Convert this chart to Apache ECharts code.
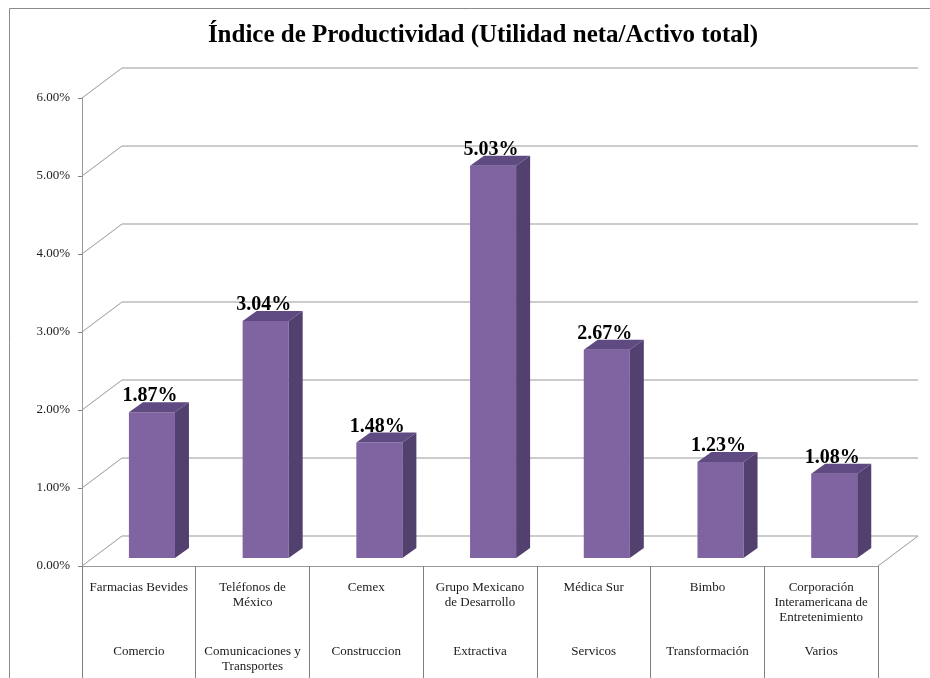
<!DOCTYPE html>
<html>
<head>
<meta charset="utf-8">
<script src="https://cdn.jsdelivr.net/npm/echarts@6/dist/echarts.min.js"></script>
<style>
html,body{margin:0;padding:0;background:#fff;}
#chart{width:930px;height:678px;}
</style>
</head>
<body>
<div id="chart"></div>
<script>
// ---- Data ----
const companies = ['Farmacias Bevides', 'Teléfonos de\nMéxico', 'Cemex', 'Grupo Mexicano\nde Desarrollo', 'Médica Sur', 'Bimbo', 'Corporación\nInteramericana de\nEntretenimiento'];
const sectors = ['Comercio', 'Comunicaciones y\nTransportes', 'Construccion', 'Extractiva', 'Servicos', 'Transformación', 'Varios'];
const productividad = [1.87, 3.04, 1.48, 5.03, 2.67, 1.23, 1.08]; // percent
const yTicks = [0, 1, 2, 3, 4, 5, 6];

const FONT = 'Liberation Serif';
const DEPTH_X = 40, DEPTH_Y = -30;
const GRID_COLOR = '#999999';

const chart = echarts.init(document.getElementById('chart'));

function wallItem(params, api) {
  const cs = params.coordSys;
  const v = api.value(0);
  const y = api.coord([0, v])[1];
  const x = cs.x, w = cs.width;
  const children = [{
    type: 'polyline',
    shape: { points: [[x, y], [x + DEPTH_X, y + DEPTH_Y], [x + w + DEPTH_X, y + DEPTH_Y]] },
    style: { stroke: GRID_COLOR, lineWidth: 1, fill: null }
  }];
  if (v === 0) {
    children.push({
      type: 'line',
      shape: { x1: x + w, y1: y, x2: x + w + DEPTH_X, y2: y + DEPTH_Y },
      style: { stroke: GRID_COLOR, lineWidth: 1 }
    });
  }
  return { type: 'group', children: children };
}

function barItem(params, api) {
  const i = api.value(0), v = api.value(1);
  const base = api.coord([i, 0]);
  const top = api.coord([i, v]);
  const bw = api.size([1, 0])[0];
  const cx = base[0];
  const x0 = cx - 0.0875 * bw, x1 = cx + 0.3175 * bw;
  const yb = base[1] - 8, yt = top[1] - 8;
  const dx = 14, dy = -10;
  return {
    type: 'group',
    children: [
      { type: 'rect', shape: { x: x0, y: yt, width: x1 - x0, height: yb - yt }, style: { fill: '#8064A2' } },
      { type: 'polygon', shape: { points: [[x1, yb], [x1, yt], [x1 + dx, yt + dy], [x1 + dx, yb + dy]] }, style: { fill: '#52406F' } },
      { type: 'polygon', shape: { points: [[x0, yt], [x1, yt], [x1 + dx, yt + dy], [x0 + dx, yt + dy]] }, style: { fill: '#5F4B82' } },
      { type: 'text', x: (x0 + x1) / 2 - 2, y: yt - 16,
        style: { text: v.toFixed(2) + '%', fill: '#000', font: 'bold 20px "' + FONT + '"', align: 'center', verticalAlign: 'middle' } }
    ]
  };
}

const option = {
  backgroundColor: '#fff',
  animation: false,
  title: {
    text: 'Índice de Productividad (Utilidad neta/Activo total)',
    left: 478, top: 18, textAlign: 'center',
    textStyle: { fontFamily: FONT, fontWeight: 'bold', fontSize: 25, color: '#000' }
  },
  graphic: [{
    type: 'rect', silent: true,
    shape: { x: 9.5, y: 8.5, width: 940, height: 700 },
    style: { fill: null, stroke: '#8a8a8a', lineWidth: 1 }
  }],
  grid: { left: 82, right: 52, top: 98, bottom: 112 },
  xAxis: [{
    type: 'category', data: companies, position: 'bottom',
    axisLine: { show: true, lineStyle: { color: GRID_COLOR, width: 1 } },
    axisTick: { show: true, length: 112, interval: 0, lineStyle: { color: '#7f7f7f' } },
    axisLabel: { interval: 0, margin: 14, fontFamily: FONT, fontSize: 13, lineHeight: 15, color: '#1a1a1a' }
  }, {
    type: 'category', data: sectors, position: 'bottom',
    axisLine: { show: false }, axisTick: { show: false },
    axisLabel: { interval: 0, margin: 78, fontFamily: FONT, fontSize: 13, lineHeight: 15, color: '#1a1a1a' }
  }],
  yAxis: {
    type: 'value', min: 0, max: 6, interval: 1,
    axisLine: { show: true, lineStyle: { color: GRID_COLOR, width: 1 } },
    axisTick: { show: true, length: 4, lineStyle: { color: '#7f7f7f' } },
    splitLine: { show: false },
    axisLabel: { margin: 12, fontFamily: FONT, fontSize: 13, color: '#1a1a1a', formatter: v => v.toFixed(2) + '%' }
  },
  series: [{
    type: 'custom', name: 'walls', z: 1, silent: true,
    renderItem: wallItem,
    encode: { y: 0 },
    data: yTicks.map(v => [v])
  }, {
    type: 'custom', name: 'Productividad', z: 5,
    renderItem: barItem,
    encode: { x: 0, y: 1 },
    data: productividad.map((v, i) => [i, v])
  }]
};
chart.setOption(option);
</script>
</body>
</html>
